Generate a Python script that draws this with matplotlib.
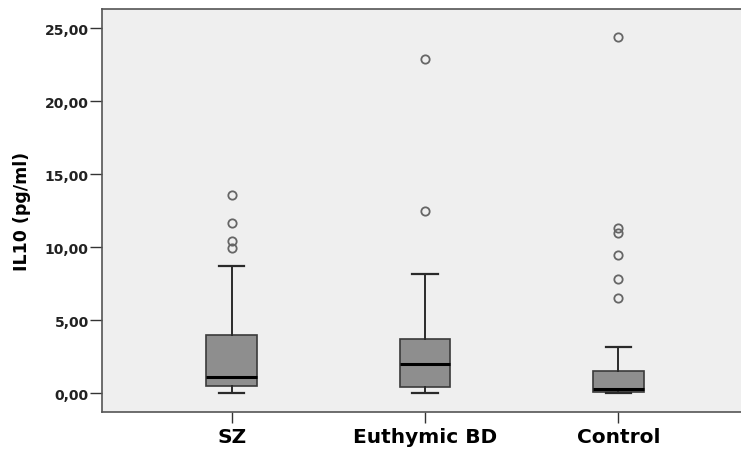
import matplotlib.pyplot as plt
from matplotlib.ticker import FuncFormatter

plt.rcParams['font.family'] = ['DejaVu Sans']

groups = ['SZ', 'Euthymic BD', 'Control']
whislo = [0.05, 0.03, 0.02]
q1 = [0.50, 0.45, 0.08]
med = [1.15, 2.00, 0.30]
q3 = [4.00, 3.75, 1.50]
whishi = [8.75, 8.15, 3.15]
outliers = [
    [13.58, 11.66, 10.41, 9.93],
    [22.90, 12.50],
    [24.40, 11.30, 11.00, 9.50, 7.85, 6.50],
]

stats = []
for i, g in enumerate(groups):
    stats.append(dict(label=g, whislo=whislo[i], q1=q1[i], med=med[i],
                      q3=q3[i], whishi=whishi[i], fliers=outliers[i]))

fig = plt.figure(figsize=(7.41, 4.52), dpi=100)
ax = fig.add_axes([102 / 741, 1 - 412.7 / 452, (748 - 102) / 741, (412.7 - 9.5) / 452])
ax.set_facecolor('#efefef')

ax.bxp(stats, positions=[1, 2, 3], widths=0.262, capwidths=0.13,
       patch_artist=True, showfliers=True,
       boxprops=dict(facecolor='#8e8e8e', edgecolor='#3a3a3a', linewidth=1.2),
       medianprops=dict(color='black', linewidth=2.2),
       whiskerprops=dict(color='#2a2a2a', linewidth=1.4),
       capprops=dict(color='#2a2a2a', linewidth=1.6),
       flierprops=dict(marker='o', markerfacecolor='none', markeredgecolor='#666666',
                       markersize=6, markeredgewidth=1.3))

ax.set_xlim(0.33, 3.67)
ax.set_ylim(-1.26, 26.36)
ax.set_yticks([0, 5, 10, 15, 20, 25])
ax.yaxis.set_major_formatter(FuncFormatter(lambda v, p: f'{v:.2f}'.replace('.', ',')))
ax.set_xticks([1, 2, 3])
ax.set_xticklabels(groups, fontsize=14.5, fontweight='bold')
for lab in ax.get_yticklabels():
    lab.set_fontsize(10)
    lab.set_fontweight('bold')
    lab.set_color('#222222')
ax.tick_params(axis='y', length=8.5, width=1, color='#333333', pad=1)
ax.tick_params(axis='x', length=8, width=1, color='#333333', pad=3)
ax.set_ylabel('IL10 (pg/ml)', fontsize=12.5, fontweight='bold', labelpad=10)

for s in ax.spines.values():
    s.set_color('#555555')
    s.set_linewidth(1.2)

fig.savefig('out.png', dpi=100)
